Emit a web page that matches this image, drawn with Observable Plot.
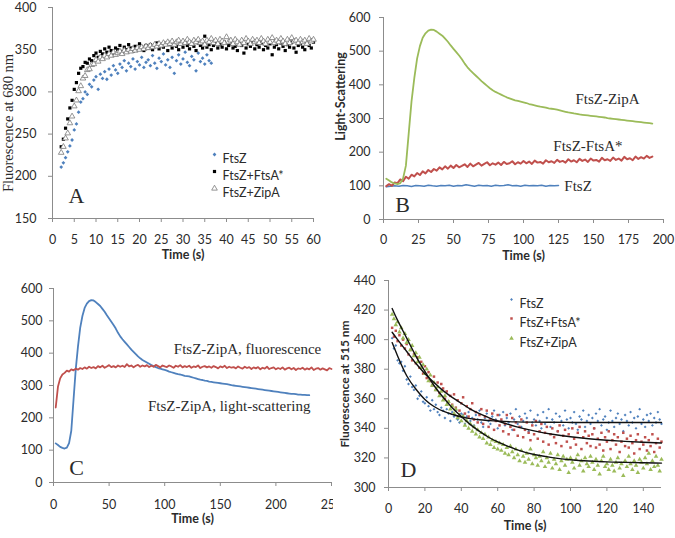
<!DOCTYPE html>
<html><head><meta charset="utf-8">
<script src="https://cdn.jsdelivr.net/npm/d3@7"></script>
<script src="https://cdn.jsdelivr.net/npm/@observablehq/plot@0.6"></script>
<style>
body{margin:0;background:#fff;}
#fig{position:relative;width:675px;height:538px;overflow:hidden;background:#fff;}
</style></head><body><div id="fig"></div>
<script>
const blue = "#4f81bd", red = "#c0504d", green = "#9bbb59";

// ---------- Panel A : fluorescence at 680 nm (sampled every 0.5 s from t = 2 s)
const A_t0 = 2, A_step = 0.5;
const A_FtsZ = [211,216,222,229,236,243,255,262,276,288,
  292,300,297,309,306,314,318,303,321,316,
  324,315,327,320,331,326,322,333,329,337,
  325,334,330,339,327,336,332,341,329,335,
  338,331,343,334,328,340,336,345,332,338,
  329,341,322,337,344,333,339,347,335,331,
  342,338,325,346,336,340,333,344,337,334];
const A_FtsA = [235,244,257,268,281,290,303,311,322,328,
  330,335,334,339,337,343,346,341,348,345,
  351,347,353,349,346,352,350,355,348,353,
  350,356,352,348,354,351,357,353,349,355,
  352,356,350,354,358,351,355,353,357,349,
  356,352,358,354,350,357,353,359,355,351,
  357,354,349,358,355,352,366,353,356,350,
  355,358,352,356,353,359,351,355,357,352,
  354,349,358,355,346,352,357,354,360,351,
  356,353,358,350,355,352,357,344,353,356,
  351,358,354,349,356,353,359,352,347,355,
  357,353,350,358,355,352,359];
const A_ZipA = [228,235,245,251,263,271,283,290,301,307,
  316,319,326,327,332,333,338,336,341,339,
  343,341,345,343,347,344,346,348,345,349,
  347,350,348,351,349,352,350,353,351,354,
  352,355,353,356,354,357,355,358,356,359,
  357,360,356,359,361,357,360,358,362,359,
  357,361,359,362,358,360,356,361,359,363,
  358,361,357,362,360,358,365,359,361,357,
  362,359,356,361,358,363,360,357,362,359,
  361,358,363,360,357,362,359,364,358,361,
  359,363,360,357,362,358,364,360,361,358,
  362,359,361,357,363,360,362];

// ---------- Panel B / C : light scattering & fluorescence
const LS_ZipA_t0 = 2, LS_ZipA_step = 2;
const LS_ZipA = [121,116,110,107,105,108,122,160,255,350,
  420,478,515,540,553,561,564,563,558,552,
  546,537,528,517,507,497,487,476,463,452,
  443,435,427,419,411,404,397,390,384,379,
  375,371,367,363,360,357,354,352,350,348,
  346,343,341,339,337,335,334,332,330,329,
  328,326,324,322,320,318,317,315,314,312,
  311,310,309,308,307,306,305,304,303,301,
  300,299,298,297,296,295,294,293,292,291,
  290,289,288,287,286,285,284,283,282,281,
  280,279,278,277,276,275,274,274,273,272,
  272,271,271,270,270];
const LS_FtsA_t0 = 2, LS_FtsA_step = 2;
const LS_FtsA = [99,105,100,110,108,119,114,127,121,133,
  128,138,132,143,137,147,141,150,145,155,
  149,158,151,160,153,162,155,159,164,156,
  166,158,163,168,160,165,170,161,167,163,
  169,162,171,165,167,173,164,170,166,174,
  167,172,165,175,169,171,166,176,170,173,
  168,177,171,174,169,179,172,176,170,180,
  174,178,171,181,175,177,172,183,176,179,
  174,184,177,181,175,186,179,182,176,187,
  180,185,181,189,183,187];
const LS_FtsZ_t0 = 2, LS_FtsZ_step = 3;
const LS_FtsZ = [97,99,100,99,101,100,98,101,100,99,102,100,99,101,100,102,99,101,100,103,
  101,99,102,100,101,99,102,100,101,103,100,101,99,102,100,101,100,102,99,101,100,101];
const FL_ZipA_t0 = 2, FL_ZipA_step = 2;
const FL_ZipA = [232,296,322,334,339,346,343,350,347,352,
  349,354,351,356,352,358,354,357,353,360,
  356,361,355,359,363,357,360,356,362,358,
  361,357,366,359,362,356,361,364,358,362,
  359,363,357,361,358,364,360,356,362,359,
  357,362,359,355,361,358,363,356,360,357,
  361,355,359,357,362,354,358,360,356,359,
  355,360,357,353,359,356,361,354,358,355,
  357,353,359,355,352,358,354,357,351,356,
  353,357,350,355,352,358,351,354,356,350,
  354,351,356,349,353,355,350,354,348,353,
  351,355,349,353,350,356,348,352,354,349,
  353,350,347,354,351];

// ---------- Panel D : fluorescence at 515 nm (sampled every 1 s from t = 2 s)
const D_t0 = 2, D_step = 1;
const D_FtsZ = [401,394,396,386,384,385,379,382,373,370,375,368,366,369,360,362,365,358,357,361,
  355,352,359,353,356,351,349,354,352,347,353,350,345,351,348,352,346,344,350,349,
  343,348,351,345,347,342,349,346,352,344,341,347,350,345,343,348,352,346,340,349,
  345,351,342,347,344,350,339,346,353,343,348,341,345,350,347,338,352,344,346,342,
  349,345,340,351,343,347,353,341,346,344,350,338,348,345,342,352,346,340,347,344,
  351,343,339,348,346,352,341,345,349,343,347,340,350,345,353,342,346,348,339,344,
  352,345,341,347,350,343,346,338,349,345,342,351,344,347,340,348,353,343,346,341,
  349,345,350,342,347,344,351,346,343];
const D_FtsA = [408,402,406,399,403,396,400,394,397,390,
  393,386,390,384,388,381,385,377,382,374,
  378,372,369,375,366,371,364,370,367,360,
  365,358,362,356,363,354,359,352,357,361,
  350,355,348,353,357,346,351,344,349,353,
  343,348,352,341,346,350,339,345,349,342,
  346,338,343,349,336,341,347,339,344,335,
  341,346,334,339,344,337,332,342,336,345,
  333,338,343,331,337,341,329,336,340,334,
  330,338,342,328,335,339,331,336,327,340,
  333,329,337,341,326,334,338,330,335,328,
  336,340,327,333,329,337,325,334,331,338,
  326,332,336,329,334,324,331,337,328,333,
  327,335,330,323,332,336,326,331,329,334,
  325,332,328,336,324,330,333,327,331];
const D_ZipA = [417,414,410,412,405,408,401,404,398,400,
  393,396,389,391,385,388,381,383,377,380,
  372,376,369,371,366,368,362,365,359,362,
  356,358,353,355,350,353,347,349,345,348,
  342,345,340,343,338,341,336,339,334,337,
  333,336,330,334,329,332,327,331,326,330,
  325,329,323,327,322,328,324,320,326,322,
  318,325,321,317,323,319,326,316,322,320,
  315,321,318,324,314,320,317,323,313,319,
  316,322,312,318,321,315,319,310,320,317,
  313,319,322,315,318,311,320,316,314,321,
  317,312,319,315,309,318,321,314,316,312,
  319,315,311,317,320,313,316,308,318,314,
  321,316,312,318,315,310,319,317,313,320,
  316,323,312,318,314,321,315,311,319];
// fitted curves
const D_fitT    = [2,5,10,15,20,25,30,35,40,45,50,55,60,70,80,90,100,110,120,130,140,150];
const D_fitFtsZ = [398,389,375.6,366.6,359.5,354.8,351.6,349.5,347.7,346.6,345.8,345.3,344.9,344.4,344.2,344.1,344,344,344,344,344,344];
const D_fitFtsA = [405,400,392,384,377,371,365.5,361,357,353,350,347.3,345,341.2,338.3,336,334.3,333,332,331.2,330.6,330.1];
const D_fitZipA = [421,413,401,389,378.5,369,361,354,348,342.5,338,334,330.8,325.8,322.3,320.2,318.8,317.9,317.3,317,316.7,316.5];

// ---------- tick values, labels
const A_xTicks = d3.range(0, 61, 5), A_yTicks = [150,200,250,300,350,400];
const B_xTicks = [0,25,50,75,100,125,150,175,200], B_yTicks = [0,100,200,300,400,500,600];
const C_xTicks = [0,50,100,150,200,250], C_yTicks = [0,100,200,300,400,500,600];
const D_xTicks = [0,20,40,60,80,100,120,140], D_yTicks = [300,320,340,360,380,400,420,440];
const legendA = ["FtsZ","FtsZ+FtsA*","FtsZ+ZipA"];
const legendD = ["FtsZ","FtsZ+FtsA*","FtsZ+ZipA"];
const annotA = [{t:5.5, v:177, s:"A"}];
const annotB = [{t:13.6, v:42, s:"B", size:22},
  {t:160, v:356, s:"FtsZ-ZipA", size:15},
  {t:146, v:217, s:"FtsZ-FtsA*", size:15},
  {t:139, v:98, s:"FtsZ", size:15}];
const annotC = [{t:20.7, v:46, s:"C", size:22},
  {t:174.5, v:411, s:"FtsZ-ZipA, fluorescence", size:15},
  {t:158, v:235, s:"FtsZ-ZipA, light-scattering", size:15}];
const annotD = [{t:11, v:312, s:"D"}];

const rows = (t0, step, vals) => vals.map((v, i) => ({t: t0 + i * step, v}));
const pairs = (ts, vs) => ts.map((t, i) => ({t, v: vs[i]}));

const axisGrey = "#8c8c8c";
const serif = "Liberation Serif, Times New Roman, serif";
const baseStyle = {fontFamily: "Lato, sans-serif", fontSize: "12px", color: "#2b2b2b", background: "#fff"};

function frameAxes(xT, yT, xPad, yPad) {
  return [
    Plot.ruleX([xT[0]], {stroke: axisGrey}),
    Plot.ruleY([yT[0]], {stroke: axisGrey}),
    Plot.axisX(xT, {tickSize: 4, tickPadding: xPad, stroke: axisGrey, fontSize: 12.5, label: null}),
    Plot.axisY(yT, {tickSize: 4, tickPadding: yPad, stroke: axisGrey, fontSize: 12.5, label: null})
  ];
}
function xTitle(dy) {
  return Plot.text(["Time (s)"], {text: d => d, frameAnchor: "bottom", dy, fontWeight: "bold", fontSize: 12.5});
}
function yTitle(label, dx, dy, opts) {
  return Plot.text([label], {text: d => d, frameAnchor: "left", textAnchor: "middle", lineAnchor: "middle",
    rotate: -90, dx, dy, ...opts});
}
function legend(labels, dx, dys, symbols) {
  const out = [];
  labels.forEach((lab, i) => {
    out.push(Plot.dot([lab], {frameAnchor: "top-left", dx, dy: dys[i], ...symbols[i]}));
    out.push(Plot.text([lab], {text: d => d, frameAnchor: "top-left", dx: dx + 8, dy: dys[i], textAnchor: "start", fontSize: 12.5}));
  });
  return out;
}
function annots(data) {
  return Plot.text(data, {x: "t", y: "v", text: "s", fontFamily: serif,
    fontSize: d => d.size || 22, textAnchor: "middle"});
}

const fig = document.getElementById("fig");
function place(el, left, top) {
  el.style.position = "absolute";
  el.style.left = left + "px";
  el.style.top = top + "px";
  fig.appendChild(el);
}

// Panel A
const symA = [
  {symbol: "diamond2", r: 1.7, fill: blue},
  {symbol: "square", r: 1.8, fill: "#000"},
  {symbol: "triangle", r: 2.1, fill: "#fff", stroke: "#7a7a7a", strokeWidth: 0.8}];
const pA = Plot.plot({
  width: 337, height: 265, marginLeft: 52, marginRight: 24, marginTop: 7, marginBottom: 47,
  x: {domain: [0, 60]}, y: {domain: [150, 400]}, style: baseStyle,
  marks: [
    ...frameAxes(A_xTicks, A_yTicks, 13, 12),
    Plot.dot(rows(A_t0, A_step, A_FtsZ), {x: "t", y: "v", ...symA[0]}),
    Plot.dot(rows(A_t0, A_step, A_FtsA), {x: "t", y: "v", ...symA[1]}),
    Plot.dot(rows(A_t0, A_step, A_ZipA), {x: "t", y: "v", ...symA[2]}),
    ...legend(legendA, 162, [147, 164, 181], symA),
    annots(annotA),
    xTitle(40),
    yTitle("Fluorescence at 680 nm", -44, 10, {fontFamily: serif, fontSize: 14.5})
  ]
});
place(pA, 0, 0);

// Panel B
const pB = Plot.plot({
  width: 347, height: 265, marginLeft: 55, marginRight: 12, marginTop: 17, marginBottom: 46,
  x: {domain: [0, 200]}, y: {domain: [0, 600]}, style: baseStyle,
  marks: [
    ...frameAxes(B_xTicks, B_yTicks, 12, 9),
    Plot.line(rows(LS_FtsZ_t0, LS_FtsZ_step, LS_FtsZ), {x: "t", y: "v", stroke: blue, strokeWidth: 1.5}),
    Plot.line(rows(LS_FtsA_t0, LS_FtsA_step, LS_FtsA), {x: "t", y: "v", stroke: red, strokeWidth: 2}),
    Plot.line(rows(LS_ZipA_t0, LS_ZipA_step, LS_ZipA).filter(d => d.t <= 193), {x: "t", y: "v", stroke: green, strokeWidth: 1.8}),
    annots(annotB),
    xTitle(40),
    yTitle("Light-Scattering", -43, -22, {fontWeight: "bold", fontSize: 12.5})
  ]
});
place(pB, 328, 0);

// Panel C (the figure is cropped just after the 250 tick)
const pC = Plot.plot({
  width: 333, height: 273, marginLeft: 53, marginRight: 2, marginTop: 23, marginBottom: 56,
  x: {domain: [0, 250]}, y: {domain: [0, 600]}, style: baseStyle,
  marks: [
    ...frameAxes(C_xTicks, C_yTicks, 14, 7),
    Plot.line(rows(LS_ZipA_t0, LS_ZipA_step, LS_ZipA), {x: "t", y: "v", stroke: blue, strokeWidth: 1.8}),
    Plot.line(rows(FL_ZipA_t0, FL_ZipA_step, FL_ZipA), {x: "t", y: "v", stroke: red, strokeWidth: 1.8}),
    annots(annotC),
    xTitle(40)
  ]
});
place(pC, 0, 265);

// Panel D
const symD = [
  {symbol: "diamond2", r: 1.3, fill: blue},
  {symbol: "square", r: 1.4, fill: red},
  {symbol: "triangle", r: 1.7, fill: green}];
const pD = Plot.plot({
  width: 338, height: 273, marginLeft: 51, marginRight: 14, marginTop: 15, marginBottom: 51,
  x: {domain: [0, 150]}, y: {domain: [300, 440]}, style: baseStyle,
  marks: [
    ...frameAxes(D_xTicks, D_yTicks, 13, 9),
    Plot.dot(rows(D_t0, D_step, D_FtsZ), {x: "t", y: "v", ...symD[0]}),
    Plot.dot(rows(D_t0, D_step, D_FtsA), {x: "t", y: "v", ...symD[1]}),
    Plot.dot(rows(D_t0, D_step, D_ZipA), {x: "t", y: "v", ...symD[2]}),
    Plot.line(pairs(D_fitT, D_fitFtsZ), {x: "t", y: "v", stroke: "#111", strokeWidth: 1.4, curve: "natural"}),
    Plot.line(pairs(D_fitT, D_fitFtsA), {x: "t", y: "v", stroke: "#111", strokeWidth: 1.4, curve: "natural"}),
    Plot.line(pairs(D_fitT, D_fitZipA), {x: "t", y: "v", stroke: "#111", strokeWidth: 1.4, curve: "natural"}),
    ...legend(legendD, 123, [19, 38, 58], symD),
    annots(annotD),
    xTitle(42),
    yTitle("Fluorescence at 515 nm", -43, 0, {fontWeight: "bold", fontSize: 12})
  ]
});
place(pD, 337, 265);
</script></body></html>
